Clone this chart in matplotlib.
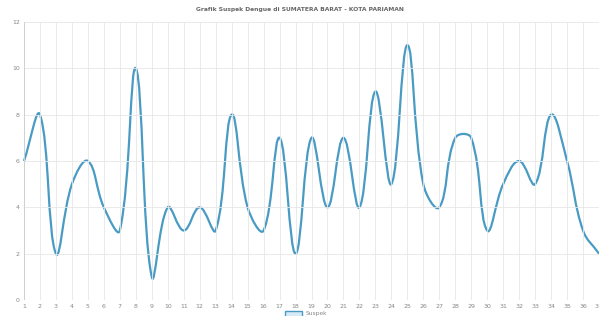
import numpy as np
import matplotlib
matplotlib.use('Agg')
from matplotlib import pyplot as plt
from matplotlib.path import Path
from matplotlib.patches import PathPatch, Rectangle

# data
days = list(range(1, 38))
suspek = [6, 8, 2, 5, 6, 4, 3, 10, 1, 4, 3, 4, 3, 8, 4, 3, 7, 2, 7, 4,
          7, 4, 9, 5, 11, 5, 4, 7, 7, 3, 5, 6, 5, 8, 6, 3, 2]
title = 'Grafik Suspek Dengue di SUMATERA BARAT - KOTA PARIAMAN'
label = 'Suspek'

fig = plt.figure(figsize=(5.99, 3.16), dpi=100)
ax = fig.add_axes([24 / 599, 1 - 300 / 316, 575 / 599, 278 / 316])
ax.set_xlim(1, 37)
ax.set_ylim(0, 12)

# chart.js style bezier (tension 0.4), distances in pixels
sx = 575 / 36
sy = 278 / 12
x = np.array(days, float)
y = np.array(suspek, float)
px, py = x * sx, y * sy
n = len(x)
verts = [(x[0], y[0])]
codes = [Path.MOVETO]
cp_prev = []
cp_next = []
t = 0.4
for i in range(n):
    a = max(i - 1, 0)
    b = min(i + 1, n - 1)
    d01 = np.hypot(px[i] - px[a], py[i] - py[a])
    d12 = np.hypot(px[b] - px[i], py[b] - py[i])
    tot = d01 + d12
    s01 = d01 / tot if tot else 0
    s12 = d12 / tot if tot else 0
    dx, dy = x[b] - x[a], y[b] - y[a]
    cp_prev.append((x[i] - t * s01 * dx, y[i] - t * s01 * dy))
    cp_next.append((x[i] + t * s12 * dx, y[i] + t * s12 * dy))
for i in range(1, n):
    verts += [cp_next[i - 1], cp_prev[i], (x[i], y[i])]
    codes += [Path.CURVE4] * 3
ax.add_patch(PathPatch(Path(verts, codes), fill=False, edgecolor='#4a9bc4',
                       lw=1.6, clip_on=False))
ax.plot([], [], color='#4a9bc4')

ax.set_xticks(days)
ax.set_yticks(range(0, 13, 2))
ax.grid(True, color='#e6e6e6', lw=0.6)
ax.tick_params(labelsize=4.5, colors='#888888', length=0, pad=3)
for s in ax.spines.values():
    s.set_visible(False)
ax.axhline(0, color='#cccccc', lw=0.6)
ax.axvline(1, color='#cccccc', lw=0.6)

fig.text(0.5, 1 - 9 / 316, title, ha='center', va='center',
         fontsize=4.3, color='#666666', fontweight='bold')
fig.patches.append(Rectangle((285 / 599, -0.01), 17 / 599, 0.025,
                             transform=fig.transFigure, facecolor='#d6ebf5',
                             edgecolor='#4a9bc4', lw=1))
fig.text(306 / 599, 1 - 314 / 316, label, fontsize=4.3, color='#888888',
         va='center')

fig.savefig('out.png', dpi=100)
